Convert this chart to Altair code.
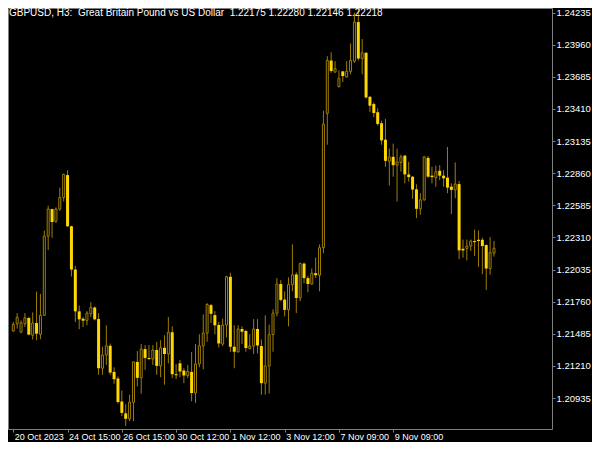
import altair as alt
import pandas as pd

# --- OHLC values (GBPUSD H3) ---
opens = [1.21509, 1.21571, 1.21498, 1.21571, 1.21620, 1.21473, 1.21577, 1.21481, 1.21643, 1.22321,
         1.22553, 1.22448, 1.22553, 1.22652, 1.22844, 1.22406, 1.22035, 1.21677, 1.21614, 1.21600,
         1.21656, 1.21710, 1.21611, 1.21190, 1.21303, 1.21382, 1.21159, 1.21102, 1.20905, 1.20803,
         1.20757, 1.20899, 1.21244, 1.21108, 1.21354, 1.21278, 1.21269, 1.21346, 1.21210, 1.21365,
         1.21312, 1.21498, 1.21139, 1.21232, 1.21170, 1.21128, 1.21159, 1.20978, 1.21227, 1.21382,
         1.21492, 1.21730, 1.21645, 1.21560, 1.21397, 1.21560, 1.21973, 1.21374, 1.21331, 1.21526,
         1.21509, 1.21359, 1.21380, 1.21526, 1.21380, 1.21062, 1.21210, 1.21478, 1.21662, 1.21911,
         1.21778, 1.21690, 1.21906, 1.21993, 1.21792, 1.22086, 1.21962, 1.21911, 1.22004, 1.21987,
         1.22222, 1.23373, 1.23825, 1.23726, 1.23602, 1.23732, 1.23684, 1.23732, 1.23819, 1.24154,
         1.23842, 1.23891, 1.23514, 1.23452, 1.23382, 1.23288, 1.23147, 1.22963, 1.23000, 1.22929,
         1.22952, 1.23011, 1.22850, 1.22830, 1.22722, 1.22555, 1.22632, 1.22991, 1.22839, 1.22822,
         1.22881, 1.22839, 1.22822, 1.22745, 1.22717, 1.22767, 1.22213, 1.22216, 1.22236, 1.22279,
         1.22290, 1.22290, 1.22245, 1.22044, 1.22175]
highs = [1.21586, 1.21662, 1.21600, 1.21662, 1.21628, 1.21668, 1.21846, 1.21826, 1.22369, 1.22581,
         1.22556, 1.22567, 1.22737, 1.22856, 1.22886, 1.22410, 1.22067, 1.21727, 1.21628, 1.21679,
         1.21755, 1.21719, 1.21662, 1.21374, 1.21558, 1.21402, 1.21198, 1.21119, 1.20998, 1.20882,
         1.20964, 1.21247, 1.21337, 1.21397, 1.21388, 1.21388, 1.21388, 1.21416, 1.21430, 1.21473,
         1.21628, 1.21549, 1.21227, 1.21261, 1.21190, 1.21218, 1.21329, 1.21397, 1.21481, 1.21651,
         1.21747, 1.21741, 1.21679, 1.21586, 1.21614, 1.21982, 1.22007, 1.21558, 1.21558, 1.21549,
         1.21520, 1.21481, 1.21611, 1.21611, 1.21436, 1.21643, 1.21563, 1.21694, 1.21962, 1.21945,
         1.21849, 1.21968, 1.22250, 1.22010, 1.22095, 1.22095, 1.21982, 1.22044, 1.22137, 1.22250,
         1.23395, 1.23862, 1.23896, 1.23819, 1.23740, 1.23735, 1.23819, 1.23970, 1.24235, 1.24275,
         1.24009, 1.23896, 1.23522, 1.23466, 1.23416, 1.23310, 1.23325, 1.23070, 1.23113, 1.23070,
         1.23019, 1.23013, 1.22957, 1.22835, 1.22765, 1.22689, 1.23008, 1.23008, 1.22915, 1.22924,
         1.22929, 1.22886, 1.23085, 1.22773, 1.22952, 1.22793, 1.22292, 1.22292, 1.22292, 1.22377,
         1.22369, 1.22307, 1.22250, 1.22313, 1.22280]
lows = [1.21501, 1.21529, 1.21492, 1.21543, 1.21473, 1.21436, 1.21430, 1.21439, 1.21637, 1.22202,
        1.22307, 1.22434, 1.22538, 1.22618, 1.22400, 1.21976, 1.21586, 1.21524, 1.21543, 1.21558,
        1.21628, 1.21600, 1.21134, 1.21134, 1.21218, 1.21134, 1.21057, 1.20888, 1.20780, 1.20695,
        1.20737, 1.20737, 1.21034, 1.20972, 1.21176, 1.21261, 1.21218, 1.21134, 1.21113, 1.21049,
        1.21232, 1.21105, 1.21096, 1.21113, 1.21062, 1.21105, 1.20907, 1.20893, 1.21198, 1.21181,
        1.21416, 1.21577, 1.21481, 1.21368, 1.21380, 1.21453, 1.21329, 1.21190, 1.21323, 1.21397,
        1.21331, 1.21351, 1.21312, 1.21317, 1.20964, 1.20964, 1.20972, 1.21331, 1.21634, 1.21764,
        1.21634, 1.21549, 1.21849, 1.21662, 1.21764, 1.21917, 1.21840, 1.21906, 1.21962, 1.21849,
        1.22174, 1.23104, 1.23721, 1.23721, 1.23594, 1.23641, 1.23679, 1.23707, 1.23806, 1.23825,
        1.23707, 1.23500, 1.23382, 1.23339, 1.23268, 1.23104, 1.22915, 1.22754, 1.22830, 1.22618,
        1.22873, 1.22773, 1.22788, 1.22640, 1.22476, 1.22504, 1.22623, 1.22822, 1.22773, 1.22745,
        1.22801, 1.22745, 1.22689, 1.22510, 1.22646, 1.22123, 1.22137, 1.22114, 1.22194, 1.22152,
        1.22058, 1.21996, 1.21860, 1.21990, 1.22146]
closes = [1.21566, 1.21626, 1.21580, 1.21622, 1.21478, 1.21577, 1.21486, 1.21643, 1.22321, 1.22553,
          1.22442, 1.22553, 1.22652, 1.22850, 1.22406, 1.22035, 1.21677, 1.21609, 1.21597, 1.21662,
          1.21710, 1.21609, 1.21190, 1.21303, 1.21382, 1.21153, 1.21096, 1.20901, 1.20808, 1.20757,
          1.20899, 1.21244, 1.21108, 1.21354, 1.21278, 1.21269, 1.21346, 1.21210, 1.21365, 1.21312,
          1.21498, 1.21139, 1.21130, 1.21162, 1.21128, 1.21162, 1.20978, 1.21227, 1.21382, 1.21492,
          1.21736, 1.21656, 1.21558, 1.21402, 1.21560, 1.21973, 1.21374, 1.21331, 1.21526, 1.21503,
          1.21363, 1.21380, 1.21526, 1.21385, 1.21062, 1.21210, 1.21478, 1.21662, 1.21911, 1.21775,
          1.21690, 1.21906, 1.21990, 1.21792, 1.22086, 1.21962, 1.21911, 1.22004, 1.21987, 1.22222,
          1.23280, 1.23825, 1.23735, 1.23755, 1.23670, 1.23692, 1.23732, 1.23825, 1.24154, 1.23842,
          1.23891, 1.23509, 1.23438, 1.23376, 1.23282, 1.23141, 1.22966, 1.23000, 1.22929, 1.22957,
          1.23000, 1.22850, 1.22827, 1.22720, 1.22555, 1.22632, 1.23000, 1.22830, 1.22827, 1.22873,
          1.22839, 1.22816, 1.22737, 1.22717, 1.22767, 1.22199, 1.22199, 1.22236, 1.22279, 1.22270,
          1.22279, 1.22236, 1.22044, 1.22180, 1.22218]

# time-axis labels (bar index where each label sits)
time_tick_bars = [0, 14, 28, 42, 56, 70, 84, 98]
time_tick_labels = ["20 Oct 2023", "24 Oct 15:00", "26 Oct 15:00", "30 Oct 12:00",
                    "1 Nov 12:00", "3 Nov 12:00", "7 Nov 09:00", "9 Nov 09:00"]

# price-axis labels
price_ticks = [1.20935, 1.21210, 1.21485, 1.21760, 1.22035, 1.22310, 1.22585,
               1.22860, 1.23135, 1.23410, 1.23685, 1.23960, 1.24235]

symbol = "GBPUSD"
period = "H3"
description = "Great Britain Pound vs US Dollar"

GOLD = "#FFD700"
DARK_GOLD = "#9E7E00"
FRAME = "#808080"
FONT = "Liberation Sans"

df = pd.DataFrame({
    "bar": list(range(len(opens))),
    "open": opens, "high": highs, "low": lows, "close": closes,
})

label_expr = "''"
for v, lab in reversed(list(zip(time_tick_bars, time_tick_labels))):
    label_expr = f"datum.value == {v} ? '{lab}' : ({label_expr})"

x_enc = alt.X("bar:Q",
              scale=alt.Scale(domain=[-0.075, 137.675], nice=False, zero=False),
              axis=alt.Axis(values=time_tick_bars, labelExpr=label_expr, orient="bottom",
                            labelAlign="left", labelPadding=0, tickSize=3, tickColor=FRAME,
                            domain=False, grid=False, title=None, labelColor="#ffffff",
                            labelFont=FONT, labelFontSize=9, labelOverlap=False,
                            labelFlush=False, labelBound=False, labelBaseline="top",
                            labelOffset=1))
y_scale = alt.Scale(domain=[1.206696, 1.242748], nice=False, zero=False)
y_axis = alt.Axis(values=price_ticks, format=".5f", orient="right", tickSize=3,
                  tickColor=FRAME, labelPadding=1, domain=False, grid=False, title=None,
                  labelColor="#ffffff", labelFont=FONT, labelFontSize=9.5,
                  labelOverlap=False, labelFlush=False, labelBound=False)

base = alt.Chart(df)

wicks = base.mark_rule(color=DARK_GOLD, strokeWidth=1, clip=True).encode(
    x=x_enc,
    y=alt.Y("low:Q", scale=y_scale, axis=y_axis),
    y2="high:Q",
)

bull = base.transform_filter("datum.close >= datum.open").mark_bar(
    size=2, fill="#000000", stroke=DARK_GOLD, strokeWidth=1, clip=True
).encode(
    x=x_enc,
    y=alt.Y("open:Q", scale=y_scale, axis=y_axis),
    y2="close:Q",
)

bear = base.transform_filter("datum.close < datum.open").mark_bar(
    size=3, fill=GOLD, clip=True
).encode(
    x=x_enc,
    y=alt.Y("open:Q", scale=y_scale, axis=y_axis),
    y2="close:Q",
)

SP2 = " \u00a0"
title_text = (f"{symbol}, {period}:{SP2}{description}{SP2}"
              f"{opens[-1]:.5f} {highs[-1]:.5f} {lows[-1]:.5f} {closes[-1]:.5f}")
title_df = pd.DataFrame({"t": [title_text]})
title = alt.Chart(title_df).mark_text(
    align="left", baseline="top", color="#ffffff", font=FONT, fontSize=10
).encode(x=alt.value(1), y=alt.value(0), text="t:N")

chart = alt.layer(wicks, bull, bear, title).properties(
    width=544, height=421,
    background="#000000",
    padding={"left": 0, "top": 0, "right": 40, "bottom": 13},
    autosize=alt.AutoSizeParams(type="none"),
).configure_view(stroke=FRAME, strokeWidth=1, fill="#000000")

chart.save("out.html", embed_options={"renderer": "svg", "actions": False})
